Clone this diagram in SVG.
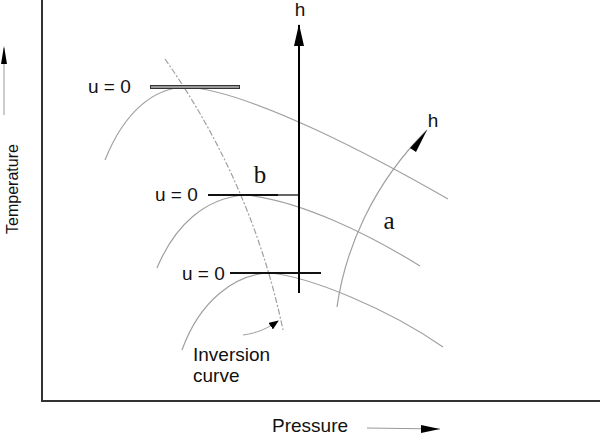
<svg xmlns="http://www.w3.org/2000/svg" width="600" height="436" viewBox="0 0 600 436">
<style>
.t{font-family:"Liberation Sans",Arial,sans-serif;font-size:19px;fill:#111}
.s{font-family:"Liberation Serif","Times New Roman",serif;font-size:25px;fill:#111}
.c{fill:none;stroke:#a0a0a0;stroke-width:1.2}
.inv{fill:none;stroke:#a0a0a0;stroke-width:1.2;stroke-dasharray:6 2 2 2}
.u{stroke:#111;stroke-width:2}
</style>
<defs>
<marker id="ah" markerWidth="10" markerHeight="8" refX="9" refY="4" orient="auto" markerUnits="userSpaceOnUse">
<path d="M0,0 L10,4 L0,8 z" fill="#000"/>
</marker>
<marker id="ab" markerWidth="22" markerHeight="10" refX="21" refY="5" orient="auto" markerUnits="userSpaceOnUse">
<path d="M0,0 L22,5 L0,10 z" fill="#000"/>
</marker>
</defs>
<g id="axes">
<line x1="42" y1="0" x2="42" y2="402" stroke="#333" stroke-width="2"/>
<line x1="41" y1="401" x2="600" y2="401" stroke="#333" stroke-width="2"/>
</g>
<g id="curves">
<path class="c" d="M105,160 C125,110 155,88 185,87 C250,90 380,160 448,199"/>
<path class="c" d="M157,268 C175,225 205,198 245,195 C300,200 370,235 420,266"/>
<path class="c" d="M182,350 C200,300 235,275 268,273 C310,276 390,310 443,347"/>
<path class="inv" d="M165,59 C215,130 260,220 283,330"/>
</g>
<g id="u-lines">
<line x1="150" y1="87" x2="240" y2="87" stroke="#333" stroke-width="4"/>
<line x1="151" y1="87" x2="239" y2="87" stroke="#999" stroke-width="2"/>
<line class="u" x1="208" y1="195" x2="300" y2="195"/>
<line x1="278" y1="195" x2="299" y2="195" stroke="#bbb" stroke-width="1"/>
<line class="u" x1="230" y1="273" x2="321" y2="273"/>
</g>
<g id="connectors">
<line x1="299" y1="293" x2="299" y2="25" stroke="#000" stroke-width="2" marker-end="url(#ab)"/>
<path d="M337,307 C345,250 372,185 427,130" fill="none" stroke="#a0a0a0" stroke-width="1.2"/>
<path d="M410,148 L427,130 L416,152 z" fill="#000"/>
<path d="M243,335 C258,333 268,328 278,321" fill="none" stroke="#a0a0a0" stroke-width="1" marker-end="url(#ah)"/>
<line x1="4" y1="115" x2="4" y2="48" stroke="#999" stroke-width="1"/>
<path d="M4,46 L7,64 L1,64 z" fill="#000"/>
<line x1="367" y1="428" x2="440" y2="429" stroke="#999" stroke-width="1"/>
<path d="M440,429 L421,425 L421,433 z" fill="#000"/>
</g>
<g id="labels">
<text class="t" x="300" y="16" text-anchor="middle">h</text>
<text class="t" x="433" y="127" text-anchor="middle">h</text>
<text class="t" x="88" y="93">u = 0</text>
<text class="t" x="155" y="201">u = 0</text>
<text class="t" x="182" y="280">u = 0</text>
<text class="s" x="260" y="183" text-anchor="middle">b</text>
<text class="s" x="389" y="229" text-anchor="middle">a</text>
<text class="t" x="193" y="361">Inversion</text>
<text class="t" x="193" y="382">curve</text>
<text class="t" x="272" y="432">Pressure</text>
<text class="t" transform="translate(18,189) rotate(-90)" text-anchor="middle" style="font-size:16px">Temperature</text>
</g>
</svg>
